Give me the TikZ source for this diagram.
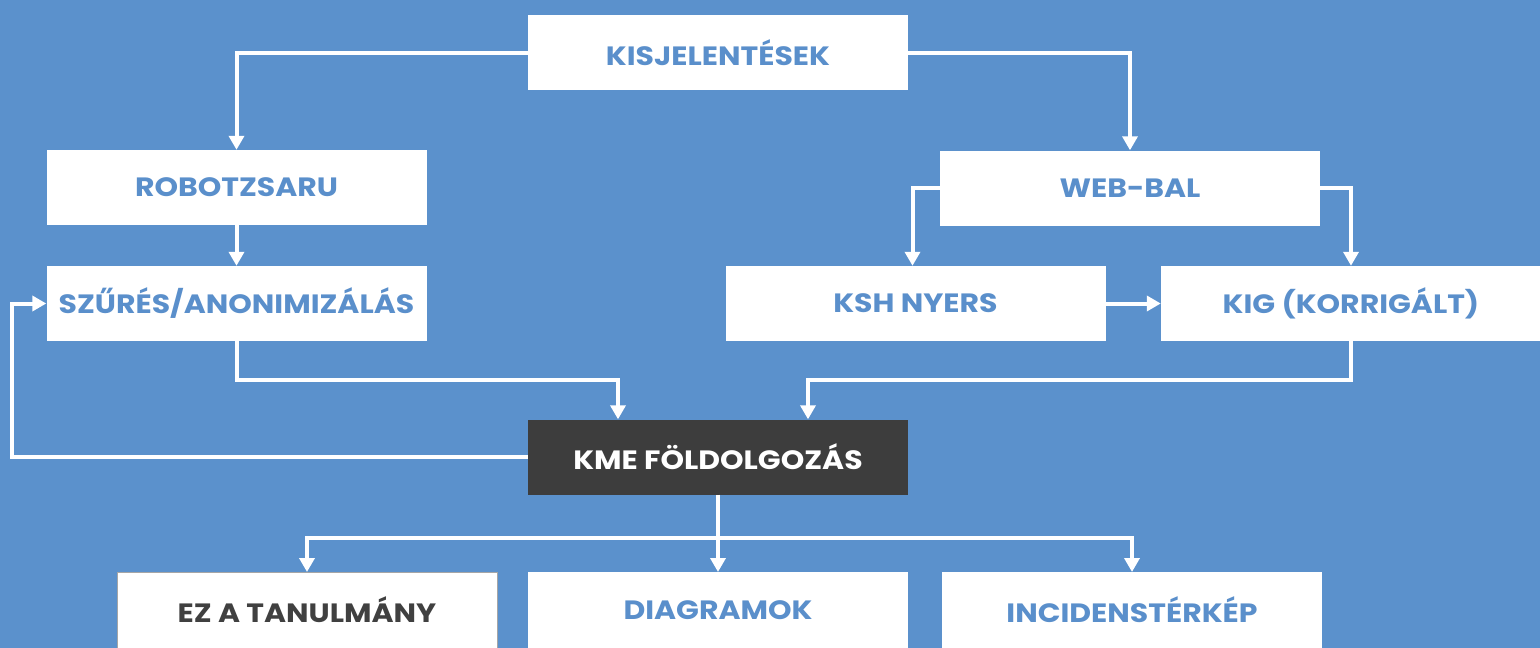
\documentclass[tikz,border=0pt]{standalone}
\usepackage{fontspec}
\setmainfont{Poppins}[FakeStretch=1.13]
\usetikzlibrary{arrows.meta}
\definecolor{bgblue}{HTML}{5B91CC}
\definecolor{txtblue}{HTML}{5A8FCB}
\definecolor{darkbox}{HTML}{3D3D3D}
\definecolor{darktxt}{HTML}{404040}
\tikzset{
  labelfont/.style={font=\fontsize{26.5}{30}\selectfont\bfseries},
  box/.style={rectangle, fill=white, minimum width=380pt, minimum height=75pt, inner sep=0pt,
    text=txtblue, labelfont},
  darknode/.style={box, fill=darkbox, text=white},
  studybox/.style={box, draw=gray!70, line width=1pt, text=darktxt, minimum height=80pt},
  lowbox/.style={box, minimum height=80pt},
  conn/.style={draw=white, line width=4pt},
  arr/.style={conn, -{Triangle[length=14pt,width=15pt]}},
}
\begin{document}
\begin{tikzpicture}[x=1pt,y=-1pt]
\fill[bgblue] (0,0) rectangle (1540,648);
\useasboundingbox (0,0) rectangle (1540,648);
\node[box] (kis) at (718,52.5) {KISJELENTÉSEK};
\node[box] (robo) at (236.5,187.5) {ROBOTZSARU};
\node[box] (szur) at (236.5,303.5) {SZŰRÉS/ANONIMIZÁLÁS};
\node[box] (web) at (1130,188) {WEB-BAL};
\node[box] (ksh) at (915.5,303.5) {KSH NYERS};
\node[box] (kig) at (1351,303.5) {KIG (KORRIGÁLT)};
\node[darknode] (kme) at (718,457) {KME FÖLDOLGOZÁS};
\node[studybox,anchor=north] (ez) at (307,572) {};
\node[lowbox,anchor=north] (diag) at (718,572) {};
\node[lowbox,anchor=north] (inc) at (1132,572) {};
\node[text=darktxt, labelfont] (ezt) at (307,610) {EZ A TANULMÁNY};
\node[text=txtblue, labelfont] (diagt) at (718,610) {DIAGRAMOK};
\node[text=txtblue, labelfont] (inct) at (1132,610) {INCIDENSTÉRKÉP};
\coordinate (fb) at (12,0);
\draw[arr] (kis.west) -| (robo.north);
\draw[arr] (kis.east) -| (web.north);
\draw[arr] (robo) -- (szur);
\draw[arr] (web.west) -| ([xshift=-3pt]ksh.north);
\draw[arr] (web.east) -| (kig.north);
\draw[arr] (ksh) -- (kig);
\draw[arr] (szur.south) -- ++(0,39) -| ([xshift=-100pt]kme.north);
\draw[arr] (kig.south) -- ++(0,39) -| ([xshift=90pt]kme.north);
\draw[conn] (kme.south) -- ++(0,43) coordinate (j);
\draw[arr] (j) -- (diag.north);
\draw[arr] (j) -| (ez.north);
\draw[arr] (j) -| (inc.north);
\draw[arr] (kme.west) -| (fb |- szur.west) -- (szur.west);
\end{tikzpicture}
\end{document}
